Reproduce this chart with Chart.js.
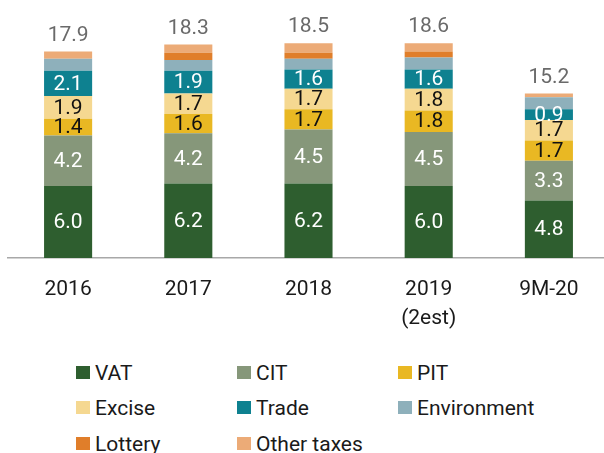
<!DOCTYPE html>
<html>
<head>
<meta charset="utf-8">
<script src="https://cdn.jsdelivr.net/npm/chart.js@4.4.0/dist/chart.umd.min.js"></script>
<style>
  html, body { margin: 0; padding: 0; background: #fff; overflow: hidden; }
  #wrap { position: relative; width: 604px; height: 453px; overflow: hidden; }
  #chartBox { position: absolute; left: 0; top: 0; width: 609px; height: 350px; }
  .leg { position: absolute; font-family: Roboto, sans-serif; font-size: 21px; color: #1a1a1a; line-height: 21px; white-space: nowrap; }
  .leg span.box { position: absolute; left: 0; top: 3px; width: 14px; height: 13px; }
  .leg span.txt { position: absolute; left: 19px; top: 0; }
</style>
</head>
<body>
<div id="wrap">
  <div id="chartBox"><canvas id="chart"></canvas></div>
</div>
<script>
"use strict";

// Chart data
const categories = ["2016", "2017", "2018", ["2019", "(2est)"], "9M-20"];
const vat = [6.0, 6.2, 6.2, 6.0, 4.8];
const cit = [4.2, 4.2, 4.5, 4.5, 3.3];
const pit = [1.4, 1.6, 1.7, 1.8, 1.7];
const excise = [1.9, 1.7, 1.7, 1.8, 1.7];
const trade = [2.1, 1.9, 1.6, 1.6, 0.9];
const environment = [1.0, 0.9, 0.9, 1.0, 1.0];
const lottery = [0, 0.6, 0.5, 0.5, 0];
const otherTaxes = [0.6, 0.7, 0.8, 0.7, 0.3];
const totals = [17.9, 18.3, 18.5, 18.6, 15.2];

const seriesNames = ["VAT", "CIT", "PIT", "Excise", "Trade", "Environment", "Lottery", "Other taxes"];
const seriesData = [vat, cit, pit, excise, trade, environment, lottery, otherTaxes];
const seriesColors = ["#2e5e2f", "#86977a", "#e9b823", "#f5d891", "#0e8190", "#8eb0bb", "#e07e2a", "#ecab77"];
// which series get a value label inside the bar, and in what colour
const labelColors = ["#ffffff", "#ffffff", "#111111", "#111111", "#ffffff", null, null, null];

const FONT = "Roboto, sans-serif";

// Draw values inside segments and totals on top
const valueLabels = {
  id: "valueLabels",
  afterDatasetsDraw(chart) {
    const ctx = chart.ctx;
    ctx.save();
    ctx.font = "21px " + FONT;
    ctx.textAlign = "center";
    ctx.textBaseline = "middle";
    chart.data.datasets.forEach((ds, i) => {
      if (!labelColors[i]) return;
      const meta = chart.getDatasetMeta(i);
      meta.data.forEach((bar, j) => {
        ctx.fillStyle = labelColors[i];
        ctx.fillText(ds.data[j].toFixed(1), bar.x, (bar.y + bar.base) / 2 + 1);
      });
    });
    // totals
    const topMeta = chart.getDatasetMeta(chart.data.datasets.length - 1);
    ctx.fillStyle = "#6a6a6a";
    topMeta.data.forEach((bar, j) => {
      ctx.fillText(totals[j].toFixed(1), bar.x, bar.y - 16);
    });
    ctx.restore();
  },
};

const datasets = seriesNames.map((name, i) => ({
  label: name,
  data: seriesData[i],
  backgroundColor: seriesColors[i],
  borderWidth: 0,
  barPercentage: 0.4,
  categoryPercentage: 1,
}));

const ctx = document.getElementById("chart").getContext("2d");
new Chart(ctx, {
  type: "bar",
  data: { labels: categories, datasets: datasets },
  options: {
    responsive: true,
    maintainAspectRatio: false,
    animation: false,
    layout: { padding: { left: 8, right: 0, top: 0, bottom: 0 } },
    scales: {
      x: {
        stacked: true,
        grid: { display: false, drawTicks: false },
        border: { display: true, color: "#a8a8a8", width: 1.5 },
        ticks: {
          color: "#1a1a1a",
          padding: 18,
          font: { family: FONT, size: 21, lineHeight: 1.35 },
        },
        afterFit(scale) {
          scale.height = 92;
        },
      },
      y: {
        stacked: true,
        display: false,
        min: 0,
        max: 21.5,
      },
    },
    plugins: {
      legend: { display: false },
      tooltip: { enabled: false },
    },
  },
  plugins: [valueLabels],
});

// Legend, laid out as a 3-column grid
const wrap = document.getElementById("wrap");
const legendCols = [76, 237, 398];
const legendRows = [363, 398, 434];
seriesNames.forEach((name, i) => {
  const item = document.createElement("div");
  item.className = "leg";
  item.style.left = legendCols[i % 3] + "px";
  item.style.top = legendRows[Math.floor(i / 3)] + "px";
  const box = document.createElement("span");
  box.className = "box";
  box.style.background = seriesColors[i];
  const txt = document.createElement("span");
  txt.className = "txt";
  txt.textContent = name;
  item.appendChild(box);
  item.appendChild(txt);
  wrap.appendChild(item);
});
</script>
</body>
</html>
